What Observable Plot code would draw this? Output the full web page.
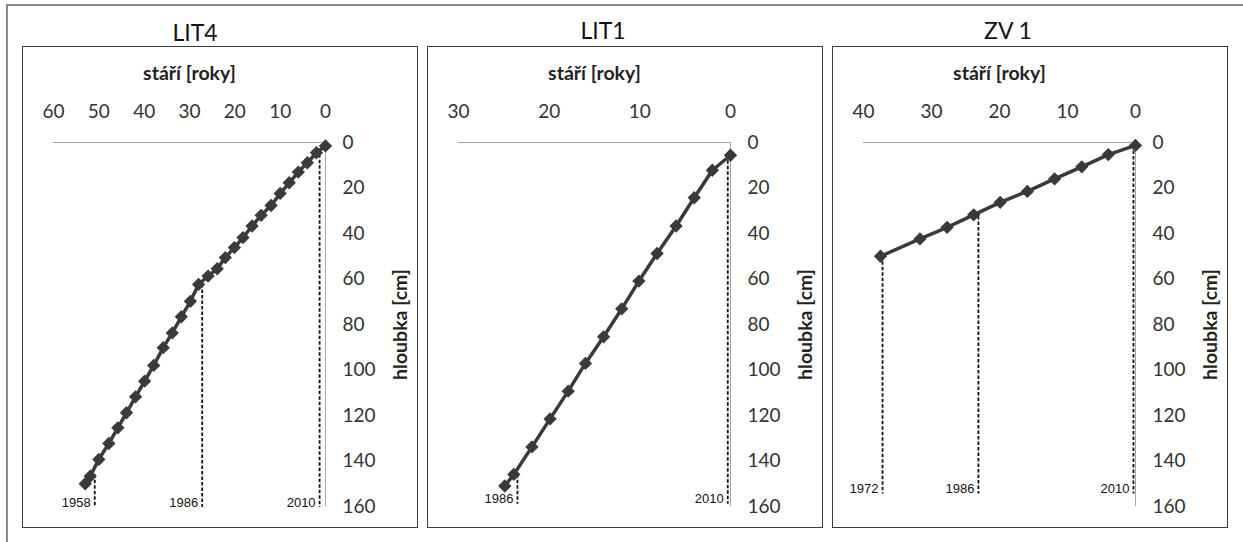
<!DOCTYPE html>
<html>
<head>
<meta charset="utf-8">
<script src="https://cdn.jsdelivr.net/npm/d3@7"></script>
<script src="https://cdn.jsdelivr.net/npm/@observablehq/plot@0.6"></script>
<style>
  html, body { margin: 0; padding: 0; background: #fff; width: 1243px; height: 542px; overflow: hidden; }
  #frame { position: absolute; left: 6px; top: 4px; width: 1300px; height: 600px;
           border-left: 2.5px solid #8a8a8a; border-top: 2.5px solid #8a8a8a; box-sizing: border-box; }
  .title { position: absolute; width: 200px; margin-left: -100px; text-align: center;
           font-family: Lato, "Liberation Sans", sans-serif; font-size: 23px; color: #111; line-height: 24px; }
  .panel { position: absolute; top: 46px; width: 396px; height: 482px; border: 1.5px solid #3c3c3c;
           box-sizing: border-box; overflow: hidden; background: #fff; }
  .panel svg { position: absolute; left: 0; top: 0; }
</style>
</head>
<body>
<div id="frame"></div>
<div id="root"></div>
<script>
// ---- data ----
const panelTitles = ["LIT4", "LIT1", "ZV 1"];
const depthTicks = [0, 20, 40, 60, 80, 100, 120, 140, 160];

const lit4Ticks = [60, 50, 40, 30, 20, 10, 0];
const lit4Age = [0, 2, 4, 6, 8, 10, 12, 14.2, 16.2, 18.2, 20.1, 22.1, 23.9, 25.9, 28, 29.8, 31.8, 33.8, 35.8, 37.9, 39.9, 41.9, 43.9, 45.8, 47.8, 50, 51.9, 53];
const lit4Depth = [1.5, 4.5, 8.9, 13, 17.7, 22.4, 27.7, 32, 36.7, 41.8, 46.2, 50.6, 55.5, 58.7, 62.4, 69.8, 76.6, 83.7, 90.2, 98, 104.9, 111.8, 118.8, 125.4, 132.3, 139.3, 146.7, 150];
const lit4Years = [1958, 1986, 2010];
const lit4YearAge = [50.9, 27.2, 1.3];
const lit4YearTop = [146, 62.4, 3];
const lit4YearBottom = [160.4, 160.4, 160.4];

const lit1Ticks = [30, 20, 10, 0];
const lit1Age = [0, 2, 4, 6, 8.1, 10.1, 12, 14, 16, 17.9, 19.9, 21.9, 23.9, 24.9];
const lit1Depth = [5.6, 12.2, 24.3, 36.7, 48.8, 60.9, 73.1, 85.4, 97.1, 109.3, 121.5, 133.8, 145.9, 151];
const lit1Years = [1986, 2010];
const lit1YearAge = [23.5, 0.3];
const lit1YearTop = [146, 5.6];
const lit1YearBottom = [159, 159];

const zv1Ticks = [40, 30, 20, 10, 0];
const zv1Age = [0, 4, 7.9, 11.9, 15.9, 19.9, 23.8, 27.7, 31.7, 37.5];
const zv1Depth = [1.3, 5.3, 10.7, 16, 21.5, 26.3, 31.8, 37.3, 42.4, 50];
const zv1Years = [1972, 1986, 2010];
const zv1YearAge = [37.2, 23.1, 0.3];
const zv1YearTop = [50, 32.5, 1.3];
const zv1YearBottom = [154.5, 154.5, 154.5];

// ---- drawing ----
function panel(xTicks, ages, depths, years, yearAges, yearTops, yearBottoms) {
  const ageMax = xTicks[0];
  const pts = ages.map((a, i) => ({age: a, depth: depths[i]}));
  const yrs = years.map((y, i) => ({year: String(y), age: yearAges[i], top: yearTops[i], bottom: yearBottoms[i]}));
  return Plot.plot({
    width: 393, height: 479,
    marginLeft: 30, marginRight: 91, marginTop: 95, marginBottom: 20,
    x: {domain: [ageMax, 0]},
    y: {domain: [0, 160], reverse: true},
    style: {background: "transparent", fontFamily: "Lato, sans-serif", color: "#333", overflow: "visible"},
    marks: [
      Plot.ruleY([0], {x1: ageMax, x2: 0, stroke: "#a6a6a6", strokeWidth: 1}),
      Plot.ruleX([0], {y1: 0, y2: 160, stroke: "#a6a6a6", strokeWidth: 1}),
      Plot.axisX({ticks: xTicks, anchor: "top", tickSize: 0, tickPadding: 25, fontSize: 19, fill: "#333", label: null}),
      Plot.axisY({ticks: depthTicks, anchor: "right", tickSize: 0, tickPadding: 17, fontSize: 19, fill: "#333", label: null}),
      Plot.ruleX(yrs, {x: "age", y1: "top", y2: "bottom", stroke: "#111", strokeWidth: 1.8, strokeDasharray: "3.5,2"}),
      Plot.text(yrs, {x: "age", y: "bottom", text: "year", textAnchor: "end", dx: -4, dy: -5,
                      fontFamily: "Liberation Sans, Arial, sans-serif", fontSize: 13, fill: "#111"}),
      Plot.line(pts, {x: "age", y: "depth", stroke: "#3a3a3a", strokeWidth: 3.5}),
      Plot.dot(pts, {x: "age", y: "depth", symbol: "diamond2", r: 6, fill: "#3a3a3a", stroke: "none"}),
      Plot.text(["stáří [roky]"], {frameAnchor: "top", textAnchor: "middle", lineAnchor: "middle", dy: -69, fontWeight: "bold", fontSize: 19.5, fill: "#222"}),
      Plot.text(["hloubka [cm]"], {frameAnchor: "right", textAnchor: "middle", lineAnchor: "middle", dx: 75, rotate: -90, fontWeight: "bold", fontSize: 19.5, fill: "#222"})
    ]
  });
}

const root = document.getElementById("root");
const specs = [
  {left: 22, titleX: 195, titleY: 32, chart: () => panel(lit4Ticks, lit4Age, lit4Depth, lit4Years, lit4YearAge, lit4YearTop, lit4YearBottom)},
  {left: 427, titleX: 603, titleY: 30, chart: () => panel(lit1Ticks, lit1Age, lit1Depth, lit1Years, lit1YearAge, lit1YearTop, lit1YearBottom)},
  {left: 832, titleX: 1008, titleY: 30, chart: () => panel(zv1Ticks, zv1Age, zv1Depth, zv1Years, zv1YearAge, zv1YearTop, zv1YearBottom)}
];
specs.forEach((s, i) => {
  const t = document.createElement("div");
  t.className = "title";
  t.style.left = s.titleX + "px";
  t.style.top = (s.titleY - 12) + "px";
  t.textContent = panelTitles[i];
  root.appendChild(t);
  const p = document.createElement("div");
  p.className = "panel";
  p.style.left = s.left + "px";
  p.appendChild(s.chart());
  root.appendChild(p);
});
</script>
</body>
</html>
